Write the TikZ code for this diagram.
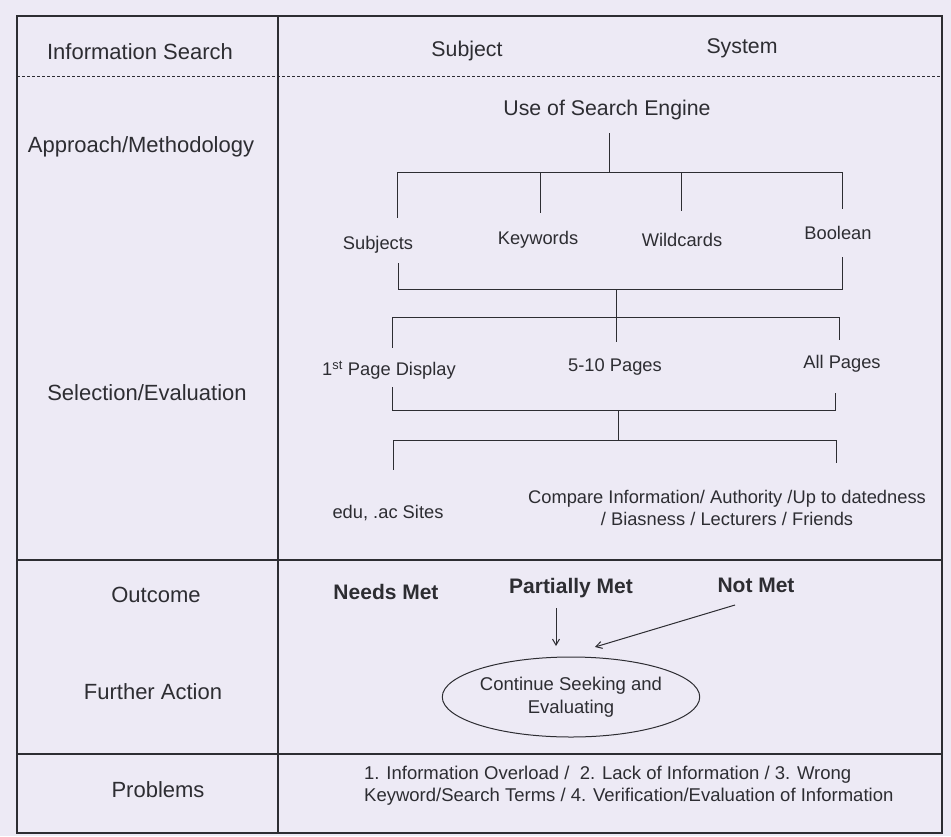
\documentclass[tikz,border=0pt]{standalone}
\usepackage{fontspec}
\setmainfont{Liberation Sans}
\usetikzlibrary{shapes.geometric,arrows.meta}
\definecolor{bg}{RGB}{237,234,245}
\definecolor{ink}{RGB}{45,45,50}
\begin{document}
\begin{tikzpicture}[x=1pt,y=-1pt,
  every node/.style={text=ink, inner sep=0pt},
  rowlab/.style={font=\fontsize{22}{26}\selectfont},
  head/.style={font=\fontsize{21.3}{25}\selectfont},
  leaf/.style={font=\fontsize{18.3}{22}\selectfont},
  outc/.style={font=\fontsize{21}{25}\selectfont\bfseries},
  rule/.style={draw=ink, line width=1.1pt},
  dashrule/.style={draw=ink, line width=0.8pt, dash pattern=on 3pt off 2pt},
  tree/.style={draw=ink, line width=1pt},
  arr/.style={draw=ink, line width=1pt, -{Straight Barb[length=6pt,width=7pt]}},
  oval/.style={draw=ink, line width=1pt, ellipse, minimum width=257pt, minimum height=80pt, align=center, font=\fontsize{18.5}{23}\selectfont}
]
\path[fill=bg] (0,0) rectangle (951,836);

% table frame
\coordinate (TL) at (17,16);
\coordinate (BR) at (942,833);
\draw[rule] (TL) rectangle (BR);
\coordinate (c1) at (278,16);
\coordinate (c2) at (278,833);
\draw[rule] (c1) -- (c2);
\coordinate (d1) at (17,76);
\coordinate (d2) at (942,76);
\draw[dashrule] (d1) -- (d2);
\coordinate (h1a) at (17,560);
\coordinate (h1b) at (942,560);
\draw[rule] (h1a) -- (h1b);
\coordinate (h2a) at (17,754);
\coordinate (h2b) at (942,754);
\draw[rule] (h2a) -- (h2b);

% left column labels
\node[rowlab] (infs) at (140,52) {Information Search};
\node[rowlab] (appr) at (141,147) {Approach/Methodology};
\node[rowlab] (selv) at (147,393) {Selection/Evaluation};
\node[rowlab] (outl) at (156,595) {Outcome};
\node[rowlab] (fact) at (153,692) {Further Action};
\node[rowlab] (prob) at (158,790) {Problems};

% header
\node[head] (subj) at (467,51) {Subject};
\node[head] (syst) at (742,48) {System};

% tree 1
\node[head] (use) at (607,110) {Use of Search Engine};
\coordinate (u1) at (609,133);
\coordinate (u2) at (609,172);
\draw[tree] (u1) -- (u2);
\coordinate (b1l) at (397,172);
\coordinate (b1r) at (842,172);
\draw[tree] (b1l) -- (b1r);
\coordinate (k1) at (540,172);
\coordinate (w1) at (681,172);
\coordinate (s2) at (397,218);
\coordinate (k2) at (540,213);
\coordinate (w2) at (681,211);
\coordinate (o2) at (842,209);
\draw[tree] (b1l) -- (s2);
\draw[tree] (k1) -- (k2);
\draw[tree] (w1) -- (w2);
\draw[tree] (b1r) -- (o2);
\node[leaf] (subjs) at (378,245) {Subjects};
\node[leaf] (keyw) at (538,240) {Keywords};
\node[leaf] (wild) at (682,240) {Wildcards};
\node[leaf] (bool) at (838,233) {Boolean};

% tree 2
\coordinate (s3) at (398,263);
\coordinate (b2l) at (398,289);
\coordinate (o3) at (842,257);
\coordinate (b2r) at (842,289);
\draw[tree] (s3) -- (b2l) -- (b2r) -- (o3);
\coordinate (m1) at (616,289);
\coordinate (m2) at (616,342);
\draw[tree] (m1) -- (m2);
\coordinate (b3l) at (392,317);
\coordinate (b3r) at (839,317);
\draw[tree] (b3l) -- (b3r);
\coordinate (f1) at (392,348);
\coordinate (a1) at (839,340);
\draw[tree] (b3l) -- (f1);
\draw[tree] (b3r) -- (a1);
\node[leaf] (first) at (389,370) {1\textsuperscript{st} Page Display};
\node[leaf] (five) at (615,367) {5-10 Pages};
\node[leaf] (allp) at (842,364) {All Pages};

% tree 3
\coordinate (f2) at (392,387);
\coordinate (b4l) at (392,410);
\coordinate (a2) at (835,393);
\coordinate (b4r) at (835,410);
\draw[tree] (f2) -- (b4l) -- (b4r) -- (a2);
\coordinate (n1) at (618,410);
\coordinate (n2) at (618,440);
\draw[tree] (n1) -- (n2);
\coordinate (b5l) at (393,440);
\coordinate (b5r) at (836,440);
\draw[tree] (b5l) -- (b5r);
\coordinate (e1) at (393,470);
\coordinate (cp1) at (836,463);
\draw[tree] (b5l) -- (e1);
\draw[tree] (b5r) -- (cp1);
\node[leaf] (edu) at (388,513) {edu, .ac Sites};
\node[leaf, align=center] (comp) at (727,508) {Compare Information/ Authority /Up to datedness\\/ Biasness / Lecturers / Friends};

% outcome row
\node[outc] (needs) at (386,592) {Needs Met};
\node[outc] (part) at (571,588) {Partially Met};
\node[outc] (notm) at (756,585) {Not Met};
\node[oval] (cont) at (571,697) {Continue Seeking and\\Evaluating};
\coordinate (pa1) at (556,608);
\coordinate (pa2) at (556,646);
\draw[arr] (pa1) -- (pa2);
\coordinate (na1) at (735,605);
\coordinate (na2) at (595,647);
\draw[arr] (na1) -- (na2);

% problems
\node[leaf, anchor=west, align=left, font=\fontsize{18.5}{22}\selectfont] (probtxt) at (364,786) {1. Information Overload /\ \ 2. Lack of Information / 3. Wrong\\Keyword/Search Terms / 4. Verification/Evaluation of Information};
\end{tikzpicture}
\end{document}
